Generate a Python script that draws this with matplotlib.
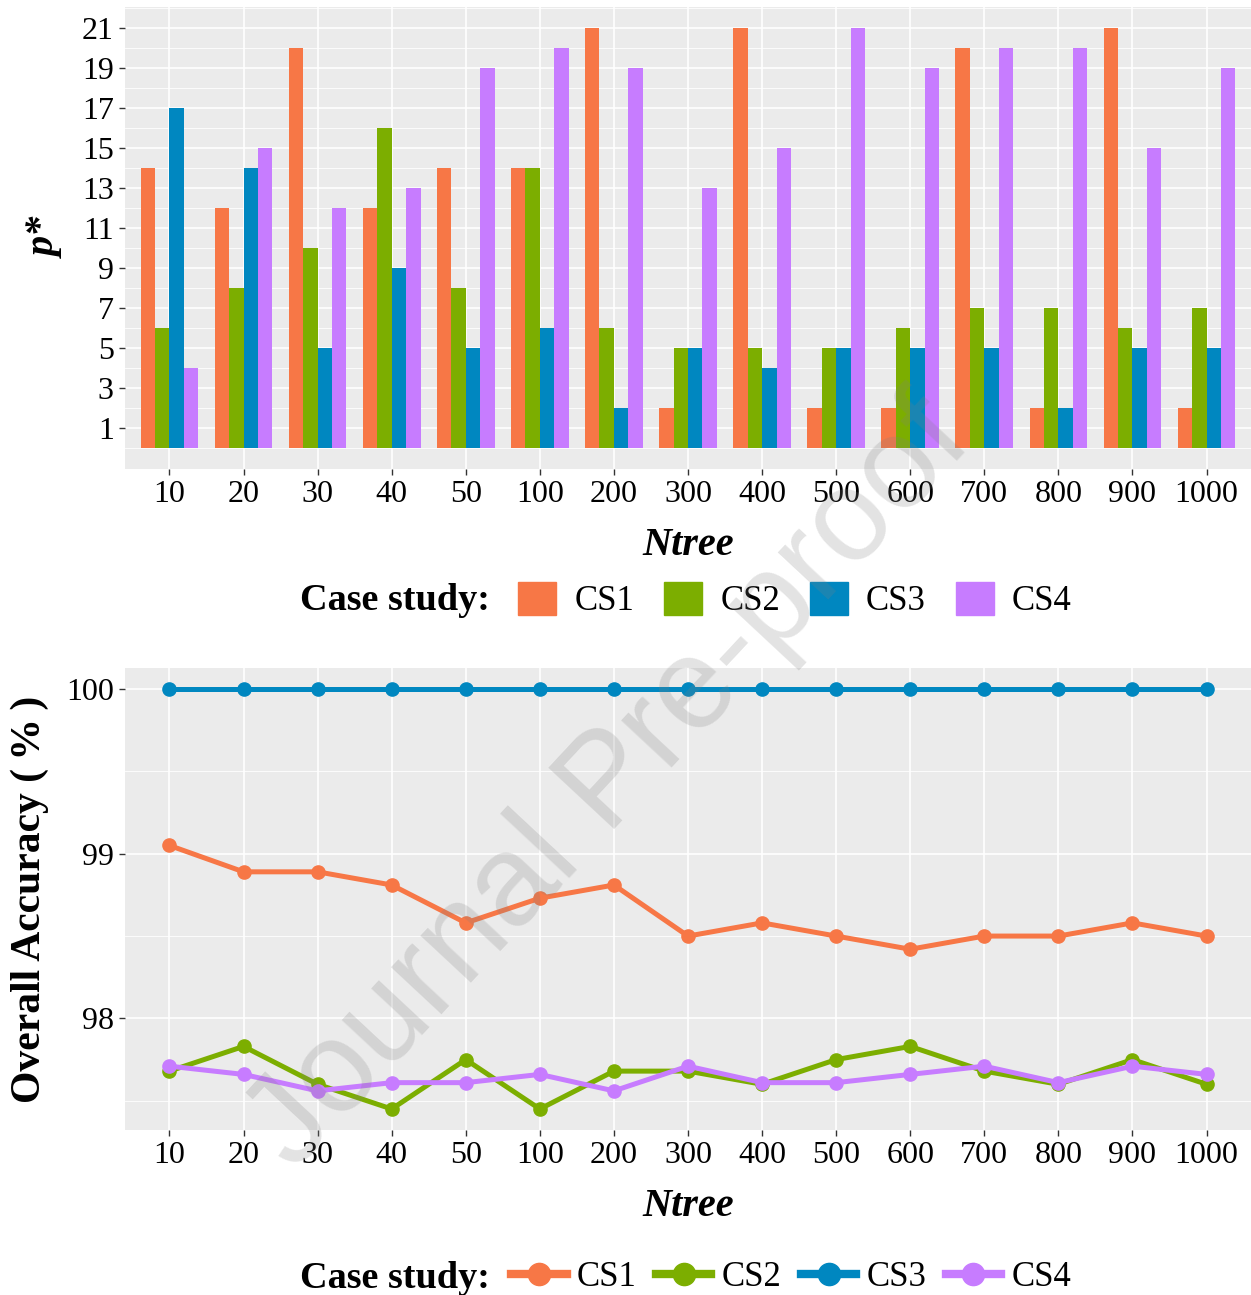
import matplotlib
matplotlib.use("Agg")
import matplotlib.pyplot as plt
import numpy as np
from matplotlib.patches import Patch
from matplotlib.lines import Line2D

plt.rcParams["font.family"] = ["Liberation Serif", "DejaVu Serif"]

ntree = ["10", "20", "30", "40", "50", "100", "200", "300", "400", "500",
         "600", "700", "800", "900", "1000"]
cases = ["CS1", "CS2", "CS3", "CS4"]
colors = ["#F77746", "#7CAE00", "#0087C0", "#C77CFF"]

# selected number of variables (p*) per case study
p_star = {
    "CS1": [14, 12, 20, 12, 14, 14, 21, 2, 21, 2, 2, 20, 2, 21, 2],
    "CS2": [6, 8, 10, 16, 8, 14, 6, 5, 5, 5, 6, 7, 7, 6, 7],
    "CS3": [17, 14, 5, 9, 5, 6, 2, 5, 4, 5, 5, 5, 2, 5, 5],
    "CS4": [4, 15, 12, 13, 19, 20, 19, 13, 15, 21, 19, 20, 20, 15, 19],
}

# overall accuracy (%) per case study
accuracy = {
    "CS1": [99.05, 98.89, 98.89, 98.81, 98.58, 98.73, 98.81, 98.50, 98.58,
            98.50, 98.42, 98.50, 98.50, 98.58, 98.50],
    "CS2": [97.68, 97.83, 97.60, 97.45, 97.75, 97.45, 97.68, 97.68, 97.60,
            97.75, 97.83, 97.68, 97.60, 97.75, 97.60],
    "CS3": [100.0] * 15,
    "CS4": [97.71, 97.66, 97.56, 97.61, 97.61, 97.66, 97.56, 97.71, 97.61,
            97.61, 97.66, 97.71, 97.61, 97.71, 97.66],
}

W, H = 1251, 1295
fig = plt.figure(figsize=(W / 100, H / 100), dpi=100)


def px_axes(left, top, right, bottom):
    return fig.add_axes([left / W, 1 - bottom / H, (right - left) / W, (bottom - top) / H])


def gg_style(ax):
    ax.set_facecolor("#EBEBEB")
    for s in ax.spines.values():
        s.set_visible(False)
    ax.grid(which="major", color="white", linewidth=1.2)
    ax.grid(which="minor", axis="y", color="white", linewidth=0.6)
    ax.set_axisbelow(True)
    ax.tick_params(which="major", length=4, width=1, color="#333333",
                   labelsize=23, labelcolor="black", pad=4)
    ax.tick_params(which="minor", length=0)


x = np.arange(len(ntree))

# -------- top: p* bars --------
ax1 = px_axes(125, 7, 1251, 469)
gg_style(ax1)
w = 0.195
for i, (c, col) in enumerate(zip(cases, colors)):
    ax1.bar(x + (i - 1.5) * w, p_star[c], width=w, color=col, linewidth=0, zorder=2)
ax1.set_xlim(-0.6, len(ntree) - 0.4)
ax1.set_ylim(-1.05, 22.05)
ax1.set_yticks(np.arange(1, 22, 2))
ax1.set_yticks(np.arange(0, 23, 2), minor=True)
ax1.set_xticks(x)
ax1.set_xticklabels(ntree)
ax1.set_xlabel("Ntree", fontsize=29, fontweight="bold", fontstyle="italic", labelpad=13)
ax1.set_ylabel("p*", fontsize=29, fontweight="bold", fontstyle="italic", labelpad=12)

# -------- bottom: accuracy lines --------
ax2 = px_axes(125, 668, 1251, 1130)
gg_style(ax2)
for c, col in zip(cases, colors):
    ax2.plot(x, accuracy[c], color=col, linewidth=3.6, marker="o",
             markersize=9.5, zorder=3)
ax2.set_xlim(-0.6, len(ntree) - 0.4)
ax2.set_ylim(97.3225, 100.1275)
ax2.set_yticks([98, 99, 100])
ax2.set_yticks([97.5, 98.5, 99.5], minor=True)
ax2.set_xticks(x)
ax2.set_xticklabels(ntree)
ax2.set_xlabel("Ntree", fontsize=29, fontweight="bold", fontstyle="italic", labelpad=13)
ax2.set_ylabel("Overall Accuracy (\u2009%\u2009)", fontsize=30, fontweight="bold",
               labelpad=12)

# -------- legends --------
fig.text(300 / W, 1 - 600 / H, "Case study:", fontsize=27.5, fontweight="bold",
         ha="left", va="center")
bar_handles = [Patch(color=col, label=c) for c, col in zip(cases, colors)]
fig.legend(handles=bar_handles, loc="center left", bbox_to_anchor=(518 / W, 1 - 600 / H),
           ncol=4, frameon=False, fontsize=25, handlelength=1.1, handleheight=1.1,
           handletextpad=0.52, columnspacing=0.86, borderpad=0, borderaxespad=0)

fig.text(300 / W, 1 - 1278 / H, "Case study:", fontsize=27.5, fontweight="bold",
         ha="left", va="center")
line_handles = [Line2D([0], [0], color=col, linewidth=6, marker="o", markersize=16, label=c)
                for c, col in zip(cases, colors)]
fig.legend(handles=line_handles, loc="center left", bbox_to_anchor=(511 / W, 1 - 1278 / H),
           ncol=4, frameon=False, fontsize=25, handlelength=1.6,
           handletextpad=0.3, columnspacing=0.55, borderpad=0, borderaxespad=0)

# watermark
fig.text(610 / W, 1 - 785 / H, "Journal Pre-proof", fontsize=93,
         family=["Liberation Sans", "DejaVu Sans"], color="#808080", alpha=0.22,
         rotation=47, ha="center", va="center", rotation_mode="anchor", zorder=10)

fig.savefig("out.png", dpi=100)
